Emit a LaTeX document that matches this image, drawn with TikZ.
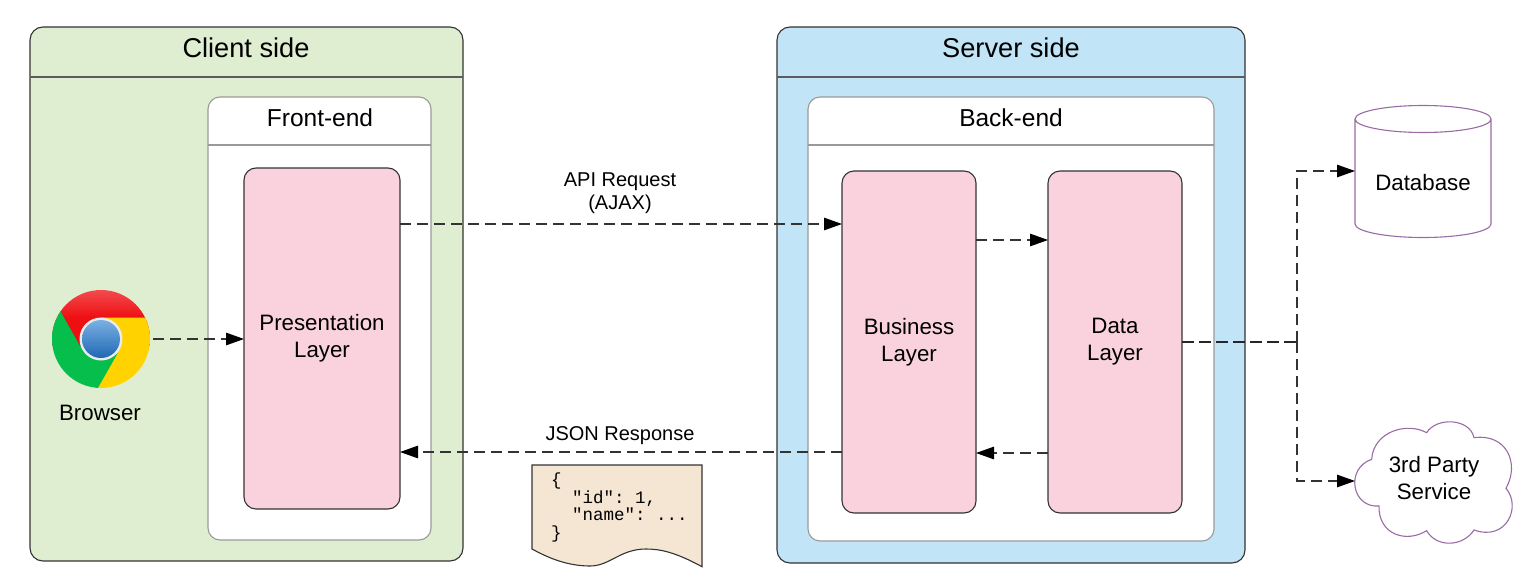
\documentclass[tikz,border=0pt]{standalone}
\usepackage{fontspec}
\setmainfont{Liberation Sans}
\setmonofont{Liberation Mono}
\usetikzlibrary{arrows.meta,calc}
\definecolor{clientg}{HTML}{DFEED0}
\definecolor{serverb}{HTML}{C1E4F7}
\definecolor{layerp}{HTML}{F9D2DE}
\definecolor{notec}{HTML}{F5E6D3}
\definecolor{purp}{HTML}{9A6BA5}
\definecolor{edgeg}{HTML}{333333}
\definecolor{innerg}{HTML}{9A9A9A}
\definecolor{chromeR}{HTML}{EE0F12}
\definecolor{chromeG}{HTML}{06BE4B}
\definecolor{chromeY}{HTML}{FFD200}
\definecolor{ballT}{HTML}{7AB0E4}
\definecolor{ballB}{HTML}{1F68B4}
\tikzset{
  panel/.style={draw=edgeg,line width=1.1pt,rounded corners=13pt,fill=#1},
  inner panel/.style={draw=innerg,line width=1.1pt,rounded corners=12pt,fill=white},
  layerbox/.style={draw=edgeg,line width=1.1pt,rounded corners=12pt,fill=layerp,align=center,font=\fontsize{22.3}{27}\selectfont,anchor=north west,inner sep=0pt,outer sep=0pt},
  titletxt/.style={font=\fontsize{27.2}{30}\selectfont},
  subtitletxt/.style={font=\fontsize{24.5}{28}\selectfont},
  lbl/.style={font=\fontsize{20}{23}\selectfont,align=center},
  flow/.style={draw=black!80,line width=1.25pt,dash pattern=on 11pt off 6pt,-{Triangle[length=18pt,width=12.5pt,color=black,fill=black]}},
  trunk/.style={draw=black!85,line width=1.6pt,dash pattern=on 12pt off 5pt},
  boxnode/.style={anchor=north west,inner sep=0pt,outer sep=0pt,align=center},
  shapeline/.style={draw=purp,line width=1.1pt,fill=white},
  headline/.style={draw=#1,line width=1.6pt}
}
\begin{document}
\begin{tikzpicture}[x=1pt,y=-1pt]
\useasboundingbox (0,0) rectangle (1531,586);
% client panel
\draw[panel=clientg] (30,27) rectangle (463,561);
\draw[headline=edgeg!80] (30,77) -- (463,77);
\node[titletxt] (clienttitle) at (246,48) {Client side};
\draw[inner panel] (208,97) rectangle (431,540);
\draw[headline=innerg] (208,145) -- (431,145);
\node[subtitletxt] (fronttitle) at (320,118) {Front-end};
\node[layerbox,minimum width=156pt,minimum height=341pt] (pres) at (244,168) {Presentation\\Layer};
% server panel
\draw[panel=serverb] (777,27) rectangle (1245,563);
\draw[headline=edgeg!80] (777,77) -- (1245,77);
\node[titletxt] (servertitle) at (1011,48) {Server side};
\draw[inner panel] (808,97) rectangle (1214,541);
\draw[headline=innerg] (808,145) -- (1214,145);
\node[subtitletxt] (backtitle) at (1011,118) {Back-end};
\node[layerbox,minimum width=134pt,minimum height=342pt] (biz) at (842,171) {Business\\Layer};
\node[layerbox,minimum width=134pt,minimum height=342pt] (data) at (1048,171) {Data\\Layer};
% browser icon
\begin{scope}
\clip (101,339) circle (49);
\shade[top color=chromeR!75!white,bottom color=chromeR,middle color=chromeR] (40,290) rectangle (160,345);
\fill[chromeG] (60.7,311.7) -- (80,346) -- (118,353) -- (98,392) -- (40,400) -- (40,300) -- cycle;
\fill[chromeY] (101,317.7) -- (160,317.7) -- (160,400) -- (98,388) -- (118,353) -- cycle;
\end{scope}
\fill[white!92!black] (101,339) circle (21.5);
\shade[top color=ballT,bottom color=ballB] (101,339) circle (19);
\node[inner sep=0pt,outer sep=0pt,minimum width=98pt,minimum height=98pt] (chrome) at (101,339) {};
\node[font=\fontsize{22.3}{27}\selectfont] (browserlbl) at (100,413) {Browser};
% database
\node[boxnode,minimum width=136pt,minimum height=132pt] (db) at (1355,105) {};
\draw[shapeline] (1355,119) -- (1355,224)
  arc[start angle=180,end angle=0,x radius=68,y radius=13.5] -- (1491,119)
  arc[start angle=0,end angle=-360,x radius=68,y radius=13.5];
\node[font=\fontsize{22.3}{27}\selectfont] (dblbl) at (1423,183) {Database};
% cloud
\node[boxnode,minimum width=157pt,minimum height=122pt] (cloud) at (1355,420) {};
\begin{scope}[shift={(1280,400)},x=0.3333pt,y=-0.3333pt]
\draw[shapeline] (275,178) .. controls (280,95) and (380,65) .. (440,98)
 .. controls (470,50) and (570,55) .. (582,113)
 .. controls (680,100) and (720,190) .. (678,265)
 .. controls (725,320) and (680,425) .. (582,390)
 .. controls (550,440) and (470,445) .. (440,392)
 .. controls (380,430) and (295,405) .. (297,318)
 .. controls (215,325) and (195,205) .. (275,178) -- cycle;
\end{scope}
\node[font=\fontsize{22.3}{27}\selectfont,align=center] (cloudlbl) at (1434,478.5) {3rd Party\\Service};
% note
\node[boxnode,minimum width=170pt,minimum height=102pt] (note) at (532,465) {};
\draw[draw=edgeg,line width=1.1pt,fill=notec] (note.north west) -- (note.north east) -- (702,566.7)
 .. controls (675,552) and (660,549) .. (646,549)
 .. controls (620,549) and (610,566) .. (590,566)
 .. controls (565,566) and (545,556) .. (532,549) -- cycle;
\node[anchor=north west,inner sep=0pt,align=left,font=\fontsize{17.5}{17.5}\ttfamily\selectfont] (json) at (551,473)
{\{\\\hspace*{21pt}"id": 1,\\\hspace*{21pt}"name": ...\\\}};
% labels
\node[lbl] (reqlbl) at (620,193) {API Request\\(AJAX)};
\node[lbl] (resplbl) at (620,436) {JSON Response};
% connectors
\coordinate (ybrowser) at (0,339);
\coordinate (yreq) at (0,224);
\coordinate (ybd) at (0,240);
\coordinate (yresp) at (0,452);
\coordinate (ydb) at (0,453);
\coordinate (ytrunk) at (0,342);
\coordinate (bus) at (1297,342);
\coordinate (ydbin) at (0,171);
\coordinate (ycloud) at (0,481);
\draw[flow] (chrome.east |- ybrowser) ++(3,0) -- (pres.west |- ybrowser);
\draw[flow] (pres.east |- yreq) -- (biz.west |- yreq);
\draw[flow] (biz.east |- ybd) -- (data.west |- ybd);
\draw[flow] (biz.west |- yresp) -- (pres.east |- yresp);
\draw[flow] (data.west |- ydb) -- (biz.east |- ydb);
\draw[trunk] (data.east |- ytrunk) -- (bus);
\draw[flow] (bus) -- (bus |- ydbin) -- (db.west |- ydbin);
\draw[flow] (bus) -- (bus |- ycloud) -- (cloud.west |- ycloud);
\end{tikzpicture}
\end{document}
